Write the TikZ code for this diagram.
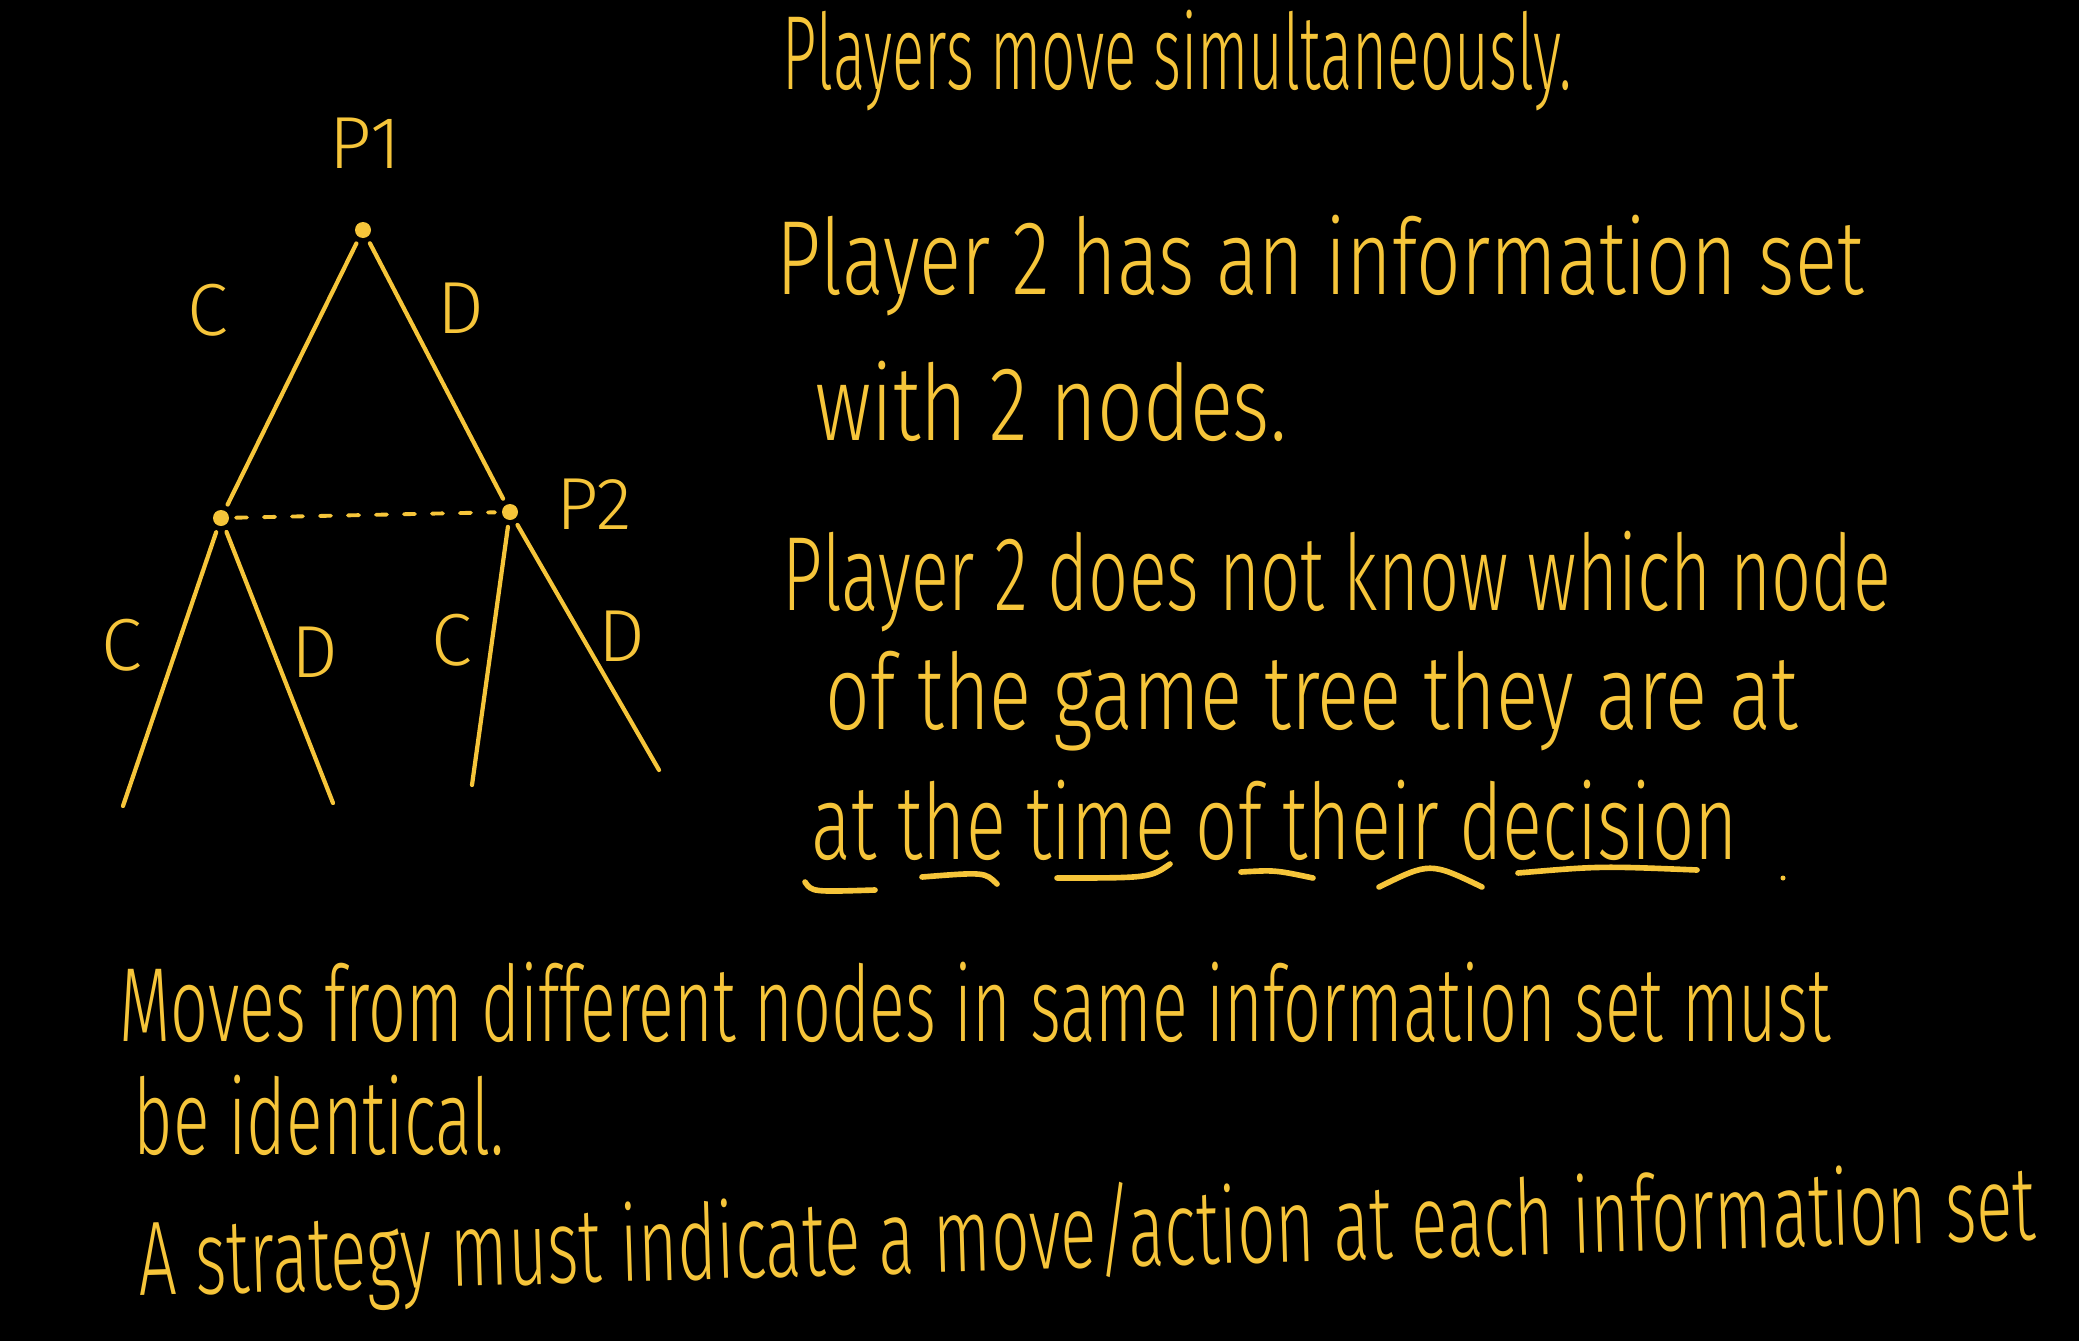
\documentclass[tikz,border=0pt]{standalone}
\usepackage{fontspec}
\usepackage{graphicx}
\usepackage{xcolor}
\usepackage{tikz}
\usetikzlibrary{positioning, calc}

\setmainfont{Fira Sans}[UprightFont={* Light}]
\definecolor{chalk}{RGB}{246,197,58}
\newcommand{\scrawl}[2]{\resizebox{#1}{\height}{#2}}

\begin{document}
\begin{tikzpicture}[x=0.1mm, y=-0.1mm,
    dot/.style={circle, fill=chalk, inner sep=0pt, minimum size=1.6mm, outer sep=0.7mm},
    branch/.style={draw=chalk, line width=1.2pt, line cap=round},
    uline/.style={draw=chalk, line width=1.6pt, line cap=round},
    infoset/.style={draw=chalk, line width=1.1pt, line cap=round, dash pattern=on 1.1mm off 1.7mm},
    lbl/.style={text=chalk, font=\fontsize{21}{25}\selectfont, inner sep=0pt},
    note/.style={text=chalk, font=\fontsize{30}{36}\selectfont, anchor=base west, inner sep=0pt}]
    \fill[black] (0,0) rectangle (2079,1341);
    % game tree
    \node[dot] (root) at (363,230) {};
    \node[dot] (c1) at (221,518) {};
    \node[dot] (d1) at (510,512) {};
    \coordinate (cc) at (123,806);
    \coordinate (cd) at (333,803);
    \coordinate (dc) at (472,785);
    \coordinate (dd) at (659,770);
    \node[lbl] (p1) at (365,143) {P1};
    \node[lbl] (p2) at (594,504) {P2};
    \node[lbl] (lc) at (208,310) {C};
    \node[lbl] (ld) at (461,308) {D};
    \node[lbl] (lcc) at (122,645) {C};
    \node[lbl] (lcd) at (315,652) {D};
    \node[lbl] (ldc) at (452,640) {C};
    \node[lbl] (ldd) at (622,636) {D};
    \draw[branch] (root) -- (c1);
    \draw[branch] (root) -- (d1);
    \draw[branch] (c1) -- (cc);
    \draw[branch] (c1) -- (cd);
    \draw[branch] (d1) -- (dc);
    \draw[branch] (d1) -- (dd);
    \draw[infoset] (c1) -- (d1);
    % notes
    \node[note] (sim) at (782,90) {\scrawl{78.9mm}{Players move simultaneously.}};
    \node[note] (has) at (776,294) {\scrawl{108.7mm}{Player 2 has an information set}};
    \node[note] (two) at (815,440) {\scrawl{47.1mm}{with 2 nodes.}};
    \node[note] (know) at (782,610) {\scrawl{110.8mm}{Player 2 does not know which node}};
    \node[note] (tree) at (825,729) {\scrawl{97.2mm}{of the game tree they are at}};
    \node[note] (time) at (811,859) {\scrawl{92.6mm}{at the time of their decision}};
    \draw[uline] (805,882) .. controls (812,892) .. (875,890);
    \draw[uline] (922,877) .. controls (985,872) .. (997,884);
    \draw[uline] (1057,878) .. controls (1150,878) .. (1170,864);
    \draw[uline] (1241,872) .. controls (1275,870) .. (1313,878);
    \draw[uline] (1379,887) .. controls (1430,862) .. (1482,887);
    \draw[uline] (1518,873) .. controls (1600,866) .. (1697,870);
    \fill[chalk] (1783,878) circle (2.5);
    \node[note, text depth=0pt] (moves) at (119,1041) {\scrawl{171.1mm}{Moves from different nodes in same information set must}};
    \node[note, text depth=0pt] (ident) at (133,1154) {\scrawl{37.1mm}{be identical.}};
    \node[note, rotate=1.7] (strat) at (139,1296) {\scrawl{189.8mm}{A strategy must indicate a move/action at each information set}};
\end{tikzpicture}
\end{document}
